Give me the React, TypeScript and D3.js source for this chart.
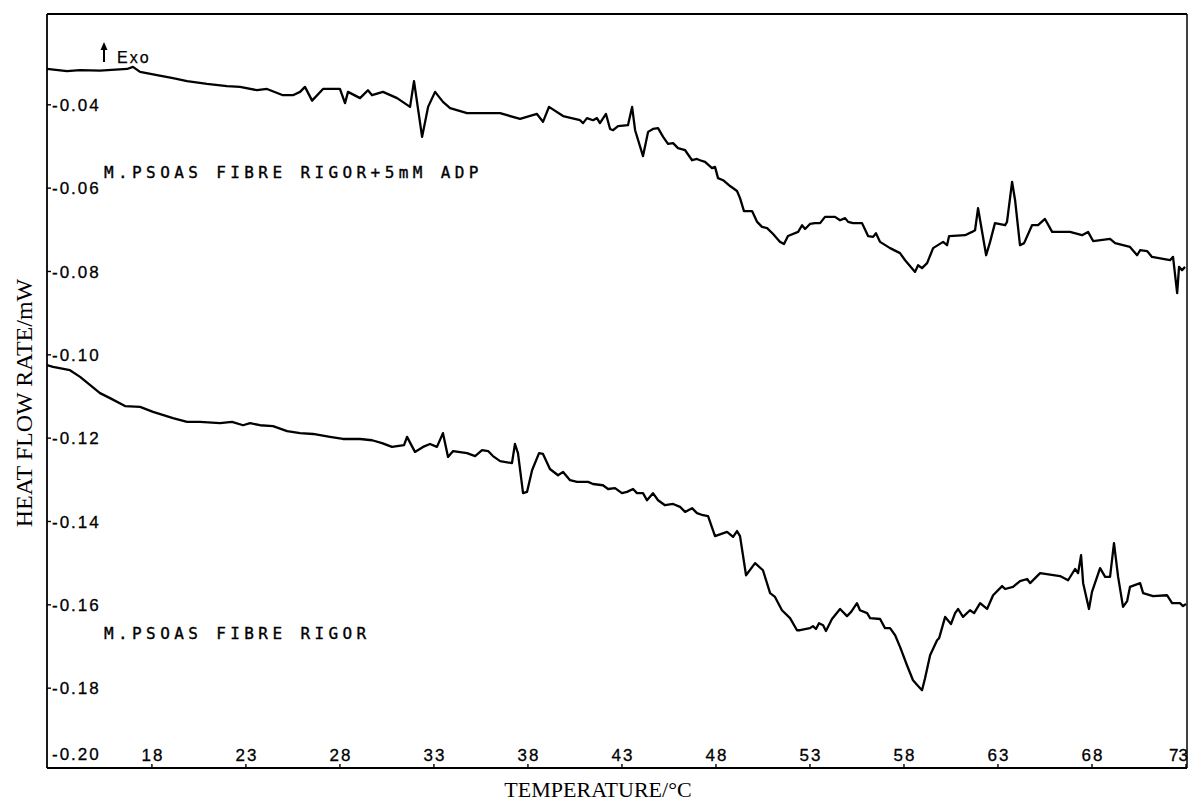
import React from "react";
import * as d3 from "d3";

const xTicks = [18, 23, 28, 33, 38, 43, 48, 53, 58, 63, 68, 73];
const yTicks = [-0.04, -0.06, -0.08, -0.1, -0.12, -0.14, -0.16, -0.18, -0.2];

const adpT = [
  12.42,13.48,14.18,15.24,16.68,16.99,17.37,18.27,19.12,19.87,
  20.93,21.99,22.69,23.59,24.12,24.97,25.50,25.88,26.14,26.52,
  27.10,28.00,28.27,28.43,29.07,29.49,29.71,30.29,31.04,31.73,
  31.94,32.37,32.69,33.06,33.48,33.86,34.76,36.52,37.58,38.48,
  38.80,39.12,39.87,40.77,40.93,41.14,41.46,41.67,41.83,42.15,
  42.37,42.53,42.79,43.32,43.54,43.70,44.12,44.39,44.65,44.92,
  45.19,45.45,45.72,45.98,46.36,46.73,46.99,47.15,47.42,47.79,
  47.95,48.11,48.38,48.75,49.12,49.28,49.49,49.92,50.19,50.45,
  50.72,51.04,51.41,51.62,51.83,52.37,52.58,52.74,53.00,53.27,
  53.54,53.80,54.33,54.60,54.87,55.03,55.29,55.77,56.09,56.36,
  56.51,56.73,57.26,57.79,58.06,58.59,58.75,58.96,59.23,59.55,
  60.08,60.29,60.40,61.25,61.62,61.78,61.94,62.05,62.37,62.58,
  62.84,63.38,63.48,63.75,63.91,64.17,64.39,64.81,65.13,65.50,
  65.88,66.83,67.47,67.79,68.06,68.96,69.23,70.02,70.40,70.56,
  70.93,71.19,72.15,72.31,72.53,72.63,72.79,72.95,
];
const adpQ = [
  -0.0314,-0.0319,-0.0317,-0.0318,-0.0314,-0.0309,-0.0321,-0.0329,-0.0336,-0.0343,
  -0.0350,-0.0355,-0.0357,-0.0365,-0.0362,-0.0377,-0.0377,-0.0369,-0.0357,-0.0390,
  -0.0362,-0.0362,-0.0396,-0.0369,-0.0384,-0.0365,-0.0377,-0.0369,-0.0384,-0.0405,
  -0.0343,-0.0477,-0.0405,-0.0369,-0.0393,-0.0408,-0.0420,-0.0420,-0.0434,-0.0422,
  -0.0441,-0.0405,-0.0427,-0.0437,-0.0444,-0.0432,-0.0437,-0.0432,-0.0444,-0.0422,
  -0.0458,-0.0461,-0.0451,-0.0449,-0.0405,-0.0461,-0.0523,-0.0465,-0.0458,-0.0456,
  -0.0477,-0.0494,-0.0492,-0.0504,-0.0509,-0.0533,-0.0530,-0.0533,-0.0537,-0.0552,
  -0.0549,-0.0576,-0.0581,-0.0595,-0.0607,-0.0624,-0.0655,-0.0655,-0.0681,-0.0693,
  -0.0696,-0.0710,-0.0729,-0.0734,-0.0715,-0.0705,-0.0689,-0.0698,-0.0686,-0.0684,
  -0.0684,-0.0669,-0.0669,-0.0677,-0.0672,-0.0681,-0.0684,-0.0684,-0.0715,-0.0717,
  -0.0708,-0.0729,-0.0744,-0.0756,-0.0773,-0.0801,-0.0785,-0.0792,-0.0780,-0.0744,
  -0.0729,-0.0737,-0.0715,-0.0713,-0.0705,-0.0701,-0.0648,-0.0677,-0.0761,-0.0729,
  -0.0684,-0.0689,-0.0681,-0.0585,-0.0629,-0.0737,-0.0732,-0.0689,-0.0689,-0.0674,
  -0.0705,-0.0705,-0.0713,-0.0705,-0.0727,-0.0722,-0.0732,-0.0741,-0.0761,-0.0749,
  -0.0751,-0.0765,-0.0773,-0.0765,-0.0852,-0.0789,-0.0797,-0.0789,
];

const rigorT = [
  12.42,12.74,13.64,14.18,15.24,15.77,16.57,17.37,18.06,19.12,
  19.87,20.56,21.62,22.26,22.85,23.22,23.75,24.44,25.19,25.88,
  26.57,27.47,28.16,29.07,29.71,30.24,30.77,31.41,31.57,31.99,
  32.42,32.79,33.16,33.48,33.75,34.02,34.76,35.19,35.56,35.88,
  36.14,36.52,37.15,37.31,37.47,37.74,37.95,38.22,38.59,38.80,
  39.17,39.60,39.87,40.24,40.61,41.20,41.46,41.99,42.26,42.63,
  43.00,43.27,43.59,43.80,44.12,44.33,44.65,44.92,45.29,45.72,
  46.09,46.36,46.73,46.99,47.31,47.58,47.95,48.59,48.91,49.12,
  49.28,49.60,50.08,50.50,50.88,51.14,51.51,51.94,52.31,52.47,
  53.00,53.16,53.32,53.48,53.70,53.85,54.17,54.60,54.97,55.19,
  55.50,55.66,56.04,56.20,56.73,56.99,57.26,57.53,57.79,58.16,
  58.48,58.75,58.96,59.12,59.39,59.76,59.87,60.19,60.50,60.72,
  60.88,61.14,61.51,61.73,62.05,62.42,62.74,63.22,63.38,63.80,
  64.17,64.55,64.71,65.24,66.30,66.73,67.10,67.26,67.42,67.53,
  67.84,68.00,68.43,68.70,68.96,69.17,69.39,69.65,69.87,70.02,
  70.56,70.72,71.25,71.99,72.26,72.68,72.84,73.00,
];
const rigorQ = [
  -0.1025,-0.1029,-0.1037,-0.1053,-0.1092,-0.1104,-0.1123,-0.1125,-0.1137,-0.1152,
  -0.1161,-0.1161,-0.1164,-0.1161,-0.1169,-0.1164,-0.1169,-0.1171,-0.1183,-0.1188,
  -0.1190,-0.1197,-0.1202,-0.1202,-0.1205,-0.1212,-0.1221,-0.1217,-0.1197,-0.1233,
  -0.1221,-0.1214,-0.1221,-0.1188,-0.1245,-0.1231,-0.1236,-0.1243,-0.1229,-0.1231,
  -0.1243,-0.1255,-0.1260,-0.1214,-0.1236,-0.1332,-0.1329,-0.1277,-0.1236,-0.1238,
  -0.1274,-0.1289,-0.1281,-0.1301,-0.1305,-0.1305,-0.1310,-0.1313,-0.1322,-0.1320,
  -0.1332,-0.1329,-0.1322,-0.1332,-0.1332,-0.1349,-0.1332,-0.1349,-0.1361,-0.1358,
  -0.1365,-0.1377,-0.1368,-0.1380,-0.1385,-0.1387,-0.1435,-0.1425,-0.1437,-0.1423,
  -0.1435,-0.1529,-0.1500,-0.1517,-0.1572,-0.1581,-0.1613,-0.1632,-0.1661,-0.1661,
  -0.1656,-0.1651,-0.1658,-0.1644,-0.1649,-0.1663,-0.1634,-0.1610,-0.1627,-0.1617,
  -0.1596,-0.1613,-0.1620,-0.1632,-0.1634,-0.1656,-0.1656,-0.1673,-0.1701,-0.1745,
  -0.1781,-0.1795,-0.1805,-0.1776,-0.1721,-0.1685,-0.1680,-0.1629,-0.1646,-0.1620,
  -0.1610,-0.1629,-0.1613,-0.1620,-0.1596,-0.1610,-0.1577,-0.1555,-0.1562,-0.1557,
  -0.1543,-0.1538,-0.1548,-0.1524,-0.1531,-0.1541,-0.1514,-0.1524,-0.1481,-0.1548,
  -0.1610,-0.1569,-0.1512,-0.1533,-0.1533,-0.1452,-0.1533,-0.1605,-0.1591,-0.1557,
  -0.1548,-0.1572,-0.1579,-0.1577,-0.1596,-0.1596,-0.1603,-0.1598,
];

const adpLabel = "M.PSOAS FIBRE RIGOR+5mM ADP";
const rigorLabel = "M.PSOAS FIBRE RIGOR";
const xTitle = "TEMPERATURE/°C";
const yTitle = "HEAT FLOW RATE/mW";

const W = 1189;
const H = 803;
const left = 47;
const right = 1187;
const top = 14;
const bottom = 768;

export default function App() {
  const x = d3.scaleLinear().domain([12.42, 73.0]).range([47, 1186]);
  const y = d3.scaleLinear().domain([-0.2, -0.04]).range([771.5, 104.8]);
  const line = d3
    .line<[number, number]>()
    .x((d) => x(d[0]))
    .y((d) => y(d[1]));
  const adp: [number, number][] = adpT.map((t, i) => [t, adpQ[i]]);
  const rig: [number, number][] = rigorT.map((t, i) => [t, rigorQ[i]]);

  const tickFont = "'Liberation Sans', Arial, sans-serif";
  const monoFont = "'DejaVu Sans Mono', monospace";
  const serif = "'Liberation Serif', 'Times New Roman', serif";

  return (
    <svg
      width={W}
      height={H}
      style={{ position: "absolute", left: 0, top: 0, background: "#fff" }}
    >
      <rect x={0} y={0} width={W} height={H} fill="#fff" />
      {/* frame */}
      <line x1={left} y1={top} x2={right} y2={top} stroke="#000" strokeWidth={1.8} />
      <line x1={left} y1={top} x2={left} y2={bottom} stroke="#000" strokeWidth={1.8} />
      <line x1={right} y1={top} x2={right} y2={bottom} stroke="#000" strokeWidth={1.5} />
      <line x1={left} y1={bottom} x2={right} y2={bottom} stroke="#000" strokeWidth={2.2} />

      {/* y ticks */}
      {yTicks.map((v) => {
        const yy = Math.min(y(v), bottom - 14);
        return (
          <g key={v}>
            {v > -0.199 && (
              <line x1={left} x2={left + 4} y1={y(v)} y2={y(v)} stroke="#000" strokeWidth={1.4} />
            )}
            <text
              x={left + 5}
              y={yy}
              dy="0.36em"
              fontFamily={tickFont}
              fontSize={17}
              letterSpacing={2}
              stroke="#000"
              strokeWidth={0.3}
              fill="#000"
            >
              {v.toFixed(2)}
            </text>
          </g>
        );
      })}

      {/* x ticks */}
      {xTicks.map((t, i) => {
        const last = i === xTicks.length - 1;
        return (
          <g key={t}>
            <line x1={x(t)} x2={x(t)} y1={bottom} y2={bottom - 4} stroke="#000" strokeWidth={1.4} />
            <text
              x={last ? W - 1 : x(t) + 1}
              y={bottom - 7}
              textAnchor={last ? "end" : "middle"}
              fontFamily={tickFont}
              fontSize={17}
              letterSpacing={last ? 0 : 2}
              stroke="#000"
              strokeWidth={0.3}
              fill="#000"
            >
              {t}
            </text>
          </g>
        );
      })}

      {/* curves */}
      <path d={line(adp) || ""} fill="none" stroke="#000" strokeWidth={2.3} strokeLinejoin="round" />
      <path d={line(rig) || ""} fill="none" stroke="#000" strokeWidth={2.3} strokeLinejoin="round" />

      {/* annotations */}
      <text x={104} y={178} fontFamily={monoFont} fontSize={16} letterSpacing={4.4} stroke="#000" strokeWidth={0.35} fill="#000">
        {adpLabel}
      </text>
      <text x={104} y={639} fontFamily={monoFont} fontSize={16} letterSpacing={4.4} stroke="#000" strokeWidth={0.35} fill="#000">
        {rigorLabel}
      </text>

      {/* Exo arrow */}
      <line x1={104} y1={62} x2={104} y2={47} stroke="#000" strokeWidth={2} />
      <path d="M100.5,50 L104,42 L107.5,50 Z" fill="#000" />
      <text x={117} y={63} fontFamily={tickFont} fontSize={16} letterSpacing={2} stroke="#000" strokeWidth={0.25} fill="#000">
        Exo
      </text>

      {/* axis titles */}
      <text
        x={598}
        y={797}
        textAnchor="middle"
        fontFamily={serif}
        fontSize={22}
        fill="#000"
      >
        {xTitle}
      </text>
      <text
        transform={`translate(32, 403) rotate(-90)`}
        textAnchor="middle"
        fontFamily={serif}
        fontSize={24}
        fill="#000"
      >
        {yTitle}
      </text>
    </svg>
  );
}
